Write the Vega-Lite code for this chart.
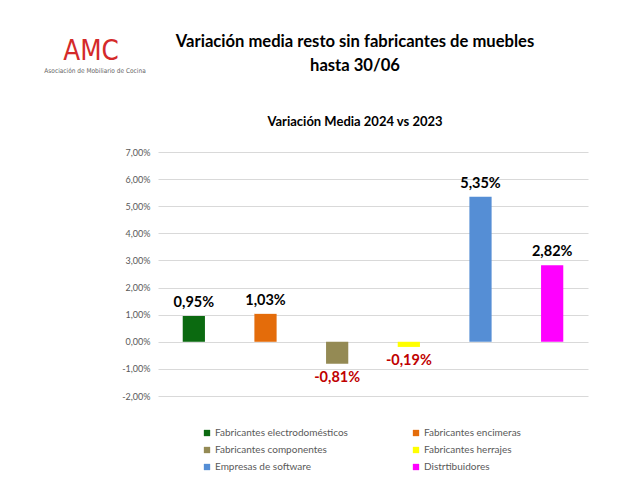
{
  "$schema": "https://vega.github.io/schema/vega-lite/v6.json",
  "padding": {"left": 5, "top": 25, "right": 5, "bottom": 5},
  "background": "white",
  "config": {
    "locale": {"number": {"decimal": ",", "thousands": ".", "grouping": [3], "currency": ["", " €"], "minus": "-"}},
    "view": {"stroke": null},
    "font": "Lato"
  },
  "datasets": {
    "bars": [
      {"categoria": "Fabricantes electrodomésticos", "variacion": 0.0095},
      {"categoria": "Fabricantes encimeras", "variacion": 0.0103},
      {"categoria": "Fabricantes componentes", "variacion": -0.0081},
      {"categoria": "Fabricantes herrajes", "variacion": -0.0019},
      {"categoria": "Empresas de software", "variacion": 0.0535},
      {"categoria": "Distrtibuidores", "variacion": 0.0282}
    ],
    "cabecera": [
      {"logo": "AMC", "sub": "Asociación de Mobiliario de Cocina", "titulo": "Variación media resto sin fabricantes de muebles\nhasta 30/06"}
    ]
  },
  "vconcat": [
    {
      "width": 394,
      "height": 60,
      "data": {"name": "cabecera"},
      "layer": [
        {"mark": {"type": "text", "fontSize": 27.5, "color": "#d42a2a", "font": "DejaVu Sans Condensed, DejaVu Sans, sans-serif", "dx": -264, "dy": -3}, "encoding": {"text": {"field": "logo", "type": "nominal"}}},
        {"mark": {"type": "text", "fontSize": 6.5, "color": "#666666", "font": "DejaVu Sans Condensed, DejaVu Sans, sans-serif", "dx": -260, "dy": 16}, "encoding": {"text": {"field": "sub", "type": "nominal"}}},
        {"mark": {"type": "text", "fontSize": 16.6, "fontWeight": "bold", "lineBreak": "\n", "lineHeight": 24, "color": "black", "dy": -13}, "encoding": {"text": {"field": "titulo", "type": "nominal"}}}
      ]
    },
    {
      "width": 430,
      "height": 244,
      "title": {"text": "Variación Media 2024 vs 2023", "fontSize": 13, "fontWeight": "bold", "color": "black", "offset": 19, "anchor": "middle", "dx": -18},
      "data": {"name": "bars"},
      "encoding": {
        "x": {"field": "categoria", "type": "nominal", "sort": null, "axis": null, "scale": {"paddingInner": 0.69, "paddingOuter": 0.345}},
        "y": {
          "field": "variacion", "type": "quantitative",
          "scale": {"domain": [-0.02, 0.07], "nice": false},
          "axis": {"values": [-0.02, -0.01, 0, 0.01, 0.02, 0.03, 0.04, 0.05, 0.06, 0.07], "format": ".2%", "title": null, "domain": false, "ticks": false, "labelFontSize": 9, "labelColor": "#595959", "gridColor": "#d9d9d9", "labelPadding": 8, "minExtent": 153}
        }
      },
      "layer": [
        {
          "mark": {"type": "bar"},
          "encoding": {
            "color": {
              "field": "categoria", "type": "nominal", "sort": null,
              "scale": {
                "domain": ["Fabricantes electrodomésticos", "Fabricantes encimeras", "Fabricantes componentes", "Fabricantes herrajes", "Empresas de software", "Distrtibuidores"],
                "range": ["#0b6a10", "#e46c0a", "#948a54", "#ffff00", "#558ed5", "#ff00ff"]
              },
              "legend": {"title": null, "orient": "none", "direction": "horizontal", "legendX": 44, "legendY": 403, "columns": 2, "symbolType": "square", "symbolSize": 40, "symbolStrokeWidth": 0, "labelFontSize": 10, "labelColor": "#595959", "columnPadding": 63, "rowPadding": 7, "labelOffset": 3}
            }
          }
        },
        {
          "transform": [{"filter": "datum.variacion >= 0"}],
          "mark": {"type": "text", "baseline": "bottom", "dy": -6, "fontSize": 14.5, "fontWeight": "bold", "color": "black"},
          "encoding": {"text": {"field": "variacion", "type": "quantitative", "format": ".2%"}}
        },
        {
          "transform": [{"filter": "datum.variacion < 0"}],
          "mark": {"type": "text", "baseline": "top", "dy": 7, "fontSize": 14.5, "fontWeight": "bold", "color": "#c00000"},
          "encoding": {"text": {"field": "variacion", "type": "quantitative", "format": ".2%"}}
        }
      ]
    }
  ],
  "spacing": 31
}
